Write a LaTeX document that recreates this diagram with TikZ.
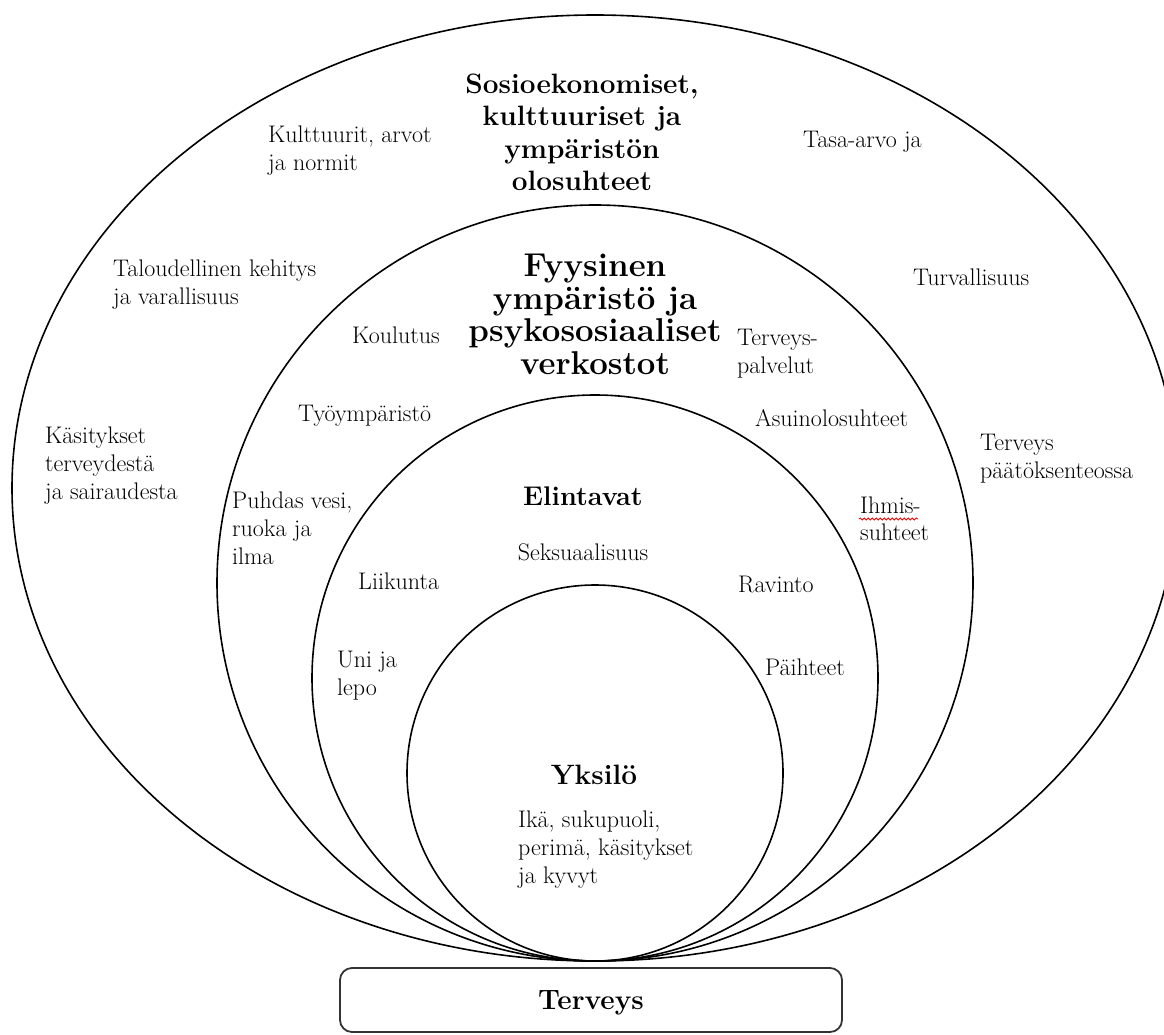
\documentclass[tikz,border=0pt]{standalone}
\usetikzlibrary{decorations.pathmorphing}
\begin{document}
\begin{tikzpicture}[x=1pt,y=-1pt,
  ring/.style={line width=1.6pt},
  lbl/.style={font=\fontsize{24}{28}\selectfont, align=left, inner sep=0pt, anchor=base west},
  head/.style={font=\bfseries\fontsize{28}{32.5}\selectfont, align=center, inner sep=0pt, anchor=base},
]
\useasboundingbox (0,0) rectangle (1164,1035);
\clip (0,0) rectangle (1164,1035);
% rings
\draw[ring] (595,488) ellipse [x radius=583, y radius=473];
\draw[ring] (595,583) circle [radius=378];
\draw[ring] (595,678) circle [radius=283];
\draw[ring] (595,773) circle [radius=188];
% box
\node[draw=black!80, line width=1.8pt, rounded corners=12pt, minimum width=502pt, minimum height=64pt, inner sep=0pt] (box) at (591,1000) {};
\node[head] (terveys) at (591,1009) {Terveys};
% outer ring
\node[head] (sosio) at (582,191) {Sosioekonomiset,\\kulttuuriset ja\\ympäristön\\olosuhteet};
\node[lbl] (kult) at (268,171) {Kulttuurit, arvot\\ja normit};
\node[lbl] (tasa) at (803,148) {Tasa-arvo ja};
\node[lbl] (talo) at (113,304) {Taloudellinen kehitys\\ja varallisuus};
\node[lbl] (turv) at (913,285) {Turvallisuus};
\node[lbl] (kasi) at (45,499) {Käsitykset\\terveydestä\\ja sairaudesta};
\node[lbl] (terpaa) at (980,478) {Terveys\\päätöksenteossa};
% second ring
\node[head, font=\bfseries\fontsize{33}{32.5}\selectfont] (fyys) at (595,374) {Fyysinen\\ympäristö ja\\psykososiaaliset\\verkostot};
\node[lbl] (koul) at (352,343) {Koulutus};
\node[lbl] (terpal) at (737,373) {Terveys-\\palvelut};
\node[lbl] (tyo) at (298,421) {Työympäristö};
\node[lbl] (asui) at (755,426) {Asuinolosuhteet};
\node[lbl] (puhd) at (232,564) {Puhdas vesi,\\ruoka ja\\ilma};
\node[lbl, font=\fontsize{24}{27}\selectfont] (ihm) at (860,540) {Ihmis-\\suhteet};
\draw[red, line width=0.8pt, decorate, decoration={snake, amplitude=1.1pt, segment length=4pt}] (859,519) -- (918,519);
% third ring
\node[head, font=\bfseries\fontsize{27}{32}\selectfont] (elin) at (583,505) {Elintavat};
\node[lbl, anchor=base] (seks) at (583,560) {Seksuaalisuus};
\node[lbl] (liik) at (358,589) {Liikunta};
\node[lbl] (ravi) at (738,592) {Ravinto};
\node[lbl] (uni) at (337,695) {Uni ja\\lepo};
\node[lbl] (paih) at (765,675) {Päihteet};
% inner circle
\node[head] (yksi) at (594,784) {Yksilö};
\node[lbl] (ika) at (518,883) {Ikä, sukupuoli,\\perimä, käsitykset\\ja kyvyt};
\end{tikzpicture}
\end{document}
